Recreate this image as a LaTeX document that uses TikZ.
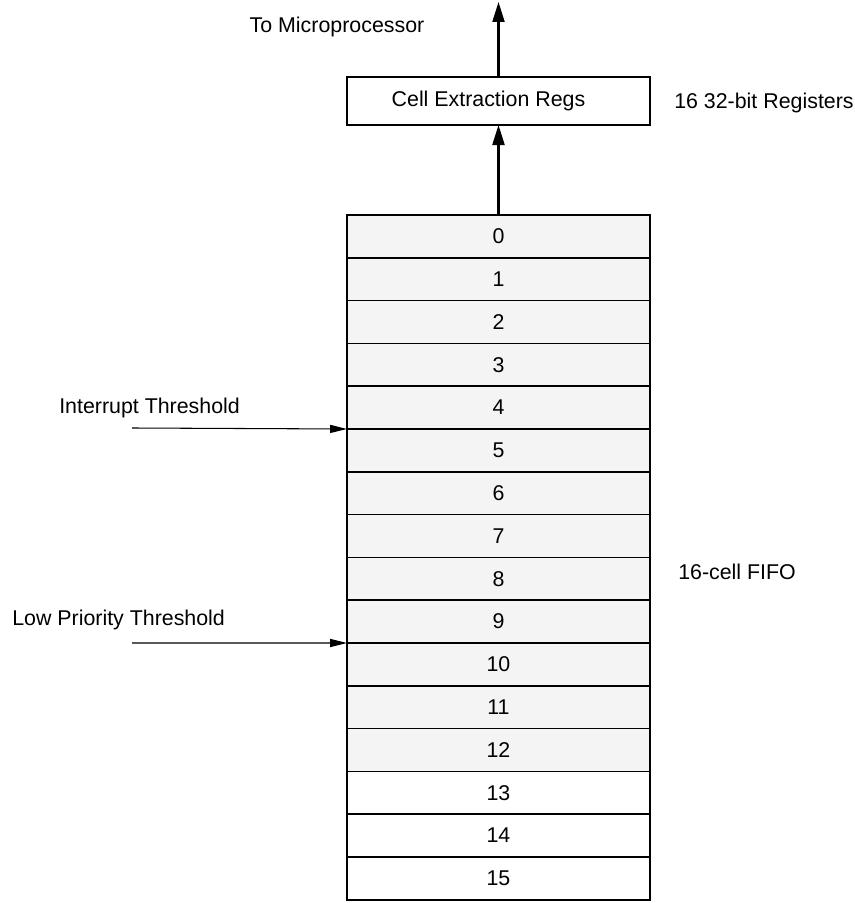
\documentclass[tikz,border=0pt]{standalone}
\usepackage{fontspec}
\setmainfont{Liberation Sans}
\usetikzlibrary{arrows.meta,positioning}
\definecolor{CellGrey}{HTML}{F4F4F4}
\tikzset{
  cellbox/.style={draw,line width=1.1pt,minimum width=7.575cm,minimum height=1.07cm,
    inner sep=0pt,outer sep=0pt},
  plain label/.style={font=\fontsize{15.2}{18}\selectfont,inner sep=0pt},
  bus arrow/.style={line width=1.5pt,-{Triangle[length=0.5cm,width=0.3cm]}},
  level arrow/.style={line width=0.75pt,-{Triangle[length=0.42cm,width=0.2cm]}}
}

\begin{document}
\begin{tikzpicture}[x=0.025cm,y=0.025cm]

        \useasboundingbox (0,0) rectangle (855,903);

        % FIFO cells, 0 at the top
        \foreach \k in {0,...,15} {
          \ifnum\k<13
            \node[cellbox,fill=CellGrey,plain label] (c\k) at (498.5,{688-42.8*(\k+0.5)}) {\k};
          \else
            \node[cellbox,fill=white,plain label] (c\k) at (498.5,{688-42.8*(\k+0.5)}) {\k};
          \fi
        }

        \node[cellbox,minimum height=1.2cm,plain label] (regs) at (498.5,802)
          {\hspace*{-0.5cm}Cell Extraction Regs};

        \coordinate (cpu) at (498.5,901);
        \draw[bus arrow] (c0.north) -- (regs.south);
        \draw[bus arrow] (regs.north) -- (cpu);

        \node[plain label] (cpulbl) at (337,876) {To Microprocessor};
        \node[plain label,anchor=west] (regslbl) at (674,800) {16 32-bit Registers};
        \node[plain label,anchor=west] (fifolbl) at (678,331) {16-cell FIFO};

        % threshold pointers
        \coordinate (intstart) at (132,475);
        \coordinate (lowstart) at (132,260);
        \draw[level arrow] (intstart) -- (c4.south west);
        \draw[level arrow] (lowstart) -- (c9.south west);

        \node[plain label,anchor=west] (intlbl) at (59,495) {Interrupt Threshold};
        \node[plain label,anchor=west] (lowlbl) at (12,283) {Low Priority Threshold};

      \end{tikzpicture}
\end{document}
